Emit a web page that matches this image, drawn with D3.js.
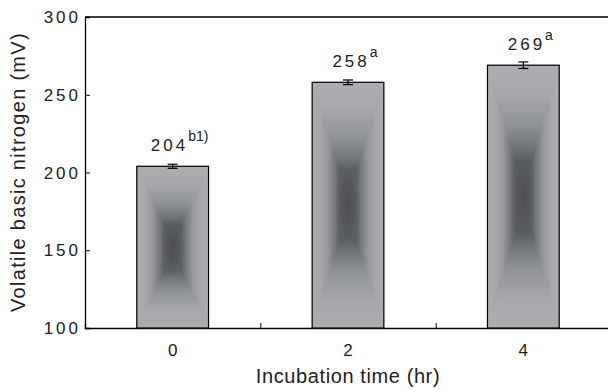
<!DOCTYPE html>
<html>
<head>
<meta charset="utf-8">
<script src="https://cdn.jsdelivr.net/npm/d3@7"></script>
<style>
  html, body { margin: 0; padding: 0; background: #fff; }
  svg { display: block; font-family: "Liberation Sans", Arial, sans-serif; }
</style>
</head>
<body>
<svg id="chart" width="608" height="390"></svg>
<script>
// ---- data ----
const categories = [0, 2, 4];
const values = [204, 258, 269];
const errors = [1.3, 1.5, 2.1];
const letters = ["b1)", "a", "a"];
const yTicks = [100, 150, 200, 250, 300];
const xMinorTicks = [1, 3, 5];
const xTickLabels = ["0", "2", "4"];
const yTitle = "Volatile basic nitrogen (mV)";
const xTitle = "Incubation time (hr)";

const svg = d3.select("#chart");
const mLeft = 85, mRight = 611, mTop = 17, mBottom = 328;
const x = d3.scaleLinear().domain([-1, 5]).range([mLeft, mRight]);
const y = d3.scaleLinear().domain([100, 300]).range([mBottom, mTop]);
const barW = x(0.818) - x(0);
const textColor = "#222";

// frame line at top
svg.append("line").attr("x1", mLeft).attr("x2", 608).attr("y1", mTop).attr("y2", mTop)
  .attr("stroke", "#000").attr("stroke-width", 1.3);

// axes with inward ticks
const yAxis = d3.axisLeft(y).tickValues(yTicks).tickSize(-5).tickFormat("");
const gy = svg.append("g").attr("transform", `translate(${mLeft},0)`).call(yAxis);
const xAxis = d3.axisBottom(x).tickValues(xMinorTicks.concat(categories)).tickSize(-5).tickFormat("");
const gx = svg.append("g").attr("transform", `translate(0,${mBottom})`).call(xAxis);
[gx, gy].forEach(g => {
  g.select(".domain").attr("stroke", "#000").attr("stroke-width", 1.3);
  g.selectAll(".tick line").attr("stroke", "#000").attr("stroke-width", 1);
});

// y tick labels
svg.append("g").selectAll("text").data(yTicks).join("text")
  .attr("x", mLeft - 4).attr("y", d => y(d) + 6)
  .attr("text-anchor", "end").attr("font-size", 17).attr("letter-spacing", 3)
  .attr("fill", textColor).text(d => d);

// x tick labels
svg.append("g").selectAll("text").data(categories).join("text")
  .attr("x", d => x(d)).attr("y", mBottom + 28)
  .attr("text-anchor", "middle").attr("font-size", 17)
  .attr("fill", textColor).text((d, i) => xTickLabels[i]);

// gradients
const defs = svg.append("defs");
const stops = [[0, "#acaeb2"], [0.3, "#a6a8ac"], [0.6, "#939699"], [0.85, "#74777b"], [1, "#595c60"]];
function grad(id, x1, y1, x2, y2) {
  const g = defs.append("linearGradient").attr("id", id)
    .attr("gradientUnits", "userSpaceOnUse")
    .attr("x1", x1).attr("y1", y1).attr("x2", x2).attr("y2", y2);
  stops.forEach(s => g.append("stop").attr("offset", s[0]).attr("stop-color", s[1]));
}
const core = defs.append("radialGradient").attr("id", "core");
core.append("stop").attr("offset", 0).attr("stop-color", "#4c4e50");
core.append("stop").attr("offset", 1).attr("stop-color", "#595c60");

const bars = svg.append("g");
categories.forEach((c, i) => {
  const cx = x(c), x0 = cx - barW / 2, x1 = cx + barW / 2;
  const yt = y(values[i]), yb = y(100);
  const h = yb - yt;
  const a = 0.36 * h;
  const ct = yt + a, cb = yb - a;
  const cl = cx - 0.12 * barW, cr = cx + 0.12 * barW;
  const g = bars.append("g");
  grad(`gt${i}`, cx, yt, cx, ct);
  grad(`gb${i}`, cx, yb, cx, cb);
  grad(`gl${i}`, x0, 0, cl, 0);
  grad(`gr${i}`, x1, 0, cr, 0);
  g.append("rect").attr("x", x0).attr("y", yt).attr("width", barW).attr("height", h).attr("fill", "#8a8d91");
  const poly = (pts, fill) => g.append("polygon")
    .attr("points", pts.map(p => p.join(",")).join(" "))
    .attr("fill", fill).attr("stroke", fill).attr("stroke-width", 0.4);
  poly([[x0, yt], [cl, ct], [cl, cb], [x0, yb]], `url(#gl${i})`);
  poly([[x1, yt], [cr, ct], [cr, cb], [x1, yb]], `url(#gr${i})`);
  poly([[x0, yt], [x1, yt], [cr, ct], [cl, ct]], `url(#gt${i})`);
  poly([[x0, yb], [x1, yb], [cr, cb], [cl, cb]], `url(#gb${i})`);
  poly([[cl, ct], [cr, ct], [cr, cb], [cl, cb]], "url(#core)");
  g.append("rect").attr("x", x0).attr("y", yt).attr("width", barW).attr("height", h)
    .attr("fill", "none").attr("stroke", "#000").attr("stroke-width", 1.2);

  // error bar
  const e = svg.append("g").attr("stroke", "#000").attr("stroke-width", 1.2);
  e.append("line").attr("x1", cx).attr("x2", cx).attr("y1", y(values[i] + errors[i])).attr("y2", y(values[i] - errors[i]));
  [values[i] + errors[i], values[i] - errors[i]].forEach(v =>
    e.append("line").attr("x1", cx - 5).attr("x2", cx + 5).attr("y1", y(v)).attr("y2", y(v)));

  // value label
  const t = svg.append("text").attr("x", cx + 7).attr("y", yt - 15)
    .attr("text-anchor", "middle").attr("font-size", 17).attr("fill", textColor);
  t.append("tspan").attr("letter-spacing", 3).text(values[i]);
  t.append("tspan").attr("font-size", 14).attr("dy", -10).text(letters[i]);
});

// axis titles
svg.append("text").attr("transform", `translate(25,172) rotate(-90)`)
  .attr("text-anchor", "middle").attr("font-size", 20).attr("letter-spacing", 1.3)
  .attr("fill", textColor).text(yTitle);
svg.append("text").attr("x", 348).attr("y", 383)
  .attr("text-anchor", "middle").attr("font-size", 20).attr("letter-spacing", 0.6)
  .attr("fill", textColor).text(xTitle);
</script>
</body>
</html>
